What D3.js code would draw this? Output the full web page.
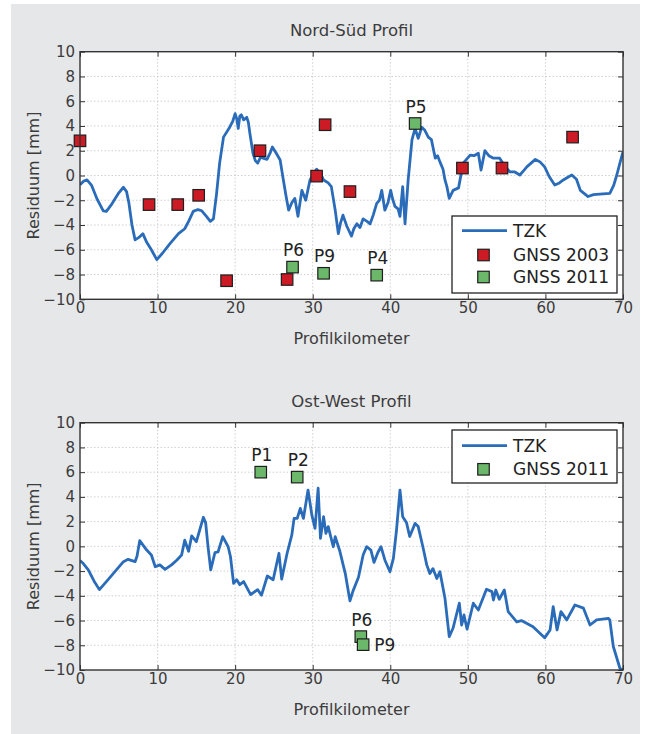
<!DOCTYPE html>
<html><head><meta charset="utf-8">
<script src="https://cdn.jsdelivr.net/npm/d3@7/dist/d3.min.js"></script>
<style>body{margin:0;background:#fff}text{font-family:"DejaVu Sans",sans-serif}</style>
</head><body><svg id="c" width="645" height="734"></svg>
<script>
// ---------- data ----------
const xTicks = [0,10,20,30,40,50,60,70];
const yTicks = [-10,-8,-6,-4,-2,0,2,4,6,8,10];
const titles = ["Nord-Süd Profil","Ost-West Profil"];
const xLabel = "Profilkilometer";
const yLabel = "Residuum [mm]";
const legendNS = ["TZK","GNSS 2003","GNSS 2011"];
const legendOW = ["TZK","GNSS 2011"];

const nsTZK = [[0,-0.75],[0.5,-0.45],[0.9,-0.35],[1.5,-0.8],[2.2,-1.9],[3.0,-2.85],[3.4,-2.9],[4.0,-2.4],[4.5,-1.9],[5.0,-1.4],[5.6,-0.95],[6.0,-1.3],[6.3,-2.2],[6.7,-4.0],[7.1,-5.2],[7.6,-5.0],[8.1,-4.7],[8.6,-5.4],[9.2,-6.0],[9.9,-6.8],[10.6,-6.3],[11.6,-5.5],[12.7,-4.7],[13.5,-4.3],[14.0,-3.7],[14.6,-2.9],[15.2,-2.75],[15.7,-2.85],[16.3,-3.3],[16.8,-3.7],[17.2,-3.5],[17.6,-1.5],[18.0,1.0],[18.5,3.1],[19.3,3.9],[19.7,4.4],[20.0,5.0],[20.2,4.6],[20.4,3.8],[20.6,4.8],[20.8,4.9],[21.1,4.5],[21.5,4.7],[21.7,4.3],[21.9,3.4],[22.3,1.8],[22.6,1.2],[22.9,1.0],[23.3,1.5],[23.6,1.4],[24.1,1.3],[24.5,1.8],[24.8,2.3],[25.3,1.8],[25.8,1.25],[26.2,-0.3],[26.6,-1.8],[26.9,-2.8],[27.3,-2.2],[27.7,-1.85],[28.1,-3.3],[28.6,-1.2],[29.1,-2.0],[29.65,-0.36],[30.0,0.0],[30.5,0.5],[31.0,0.2],[31.4,-0.36],[32.0,-0.6],[32.4,-0.9],[32.9,-2.8],[33.3,-4.7],[33.6,-3.8],[33.9,-3.2],[34.4,-4.1],[35.0,-4.9],[35.3,-4.3],[35.7,-3.9],[36.1,-4.2],[36.5,-3.5],[37.0,-3.7],[37.4,-3.9],[37.8,-3.2],[38.25,-2.25],[38.6,-2.0],[38.9,-1.2],[39.3,-2.8],[39.7,-2.2],[40.05,-1.2],[40.3,-1.9],[40.6,-2.5],[41.0,-2.7],[41.25,-3.3],[41.6,-0.9],[41.9,-3.9],[42.3,-0.4],[42.8,2.9],[43.2,3.8],[43.6,3.0],[44.05,3.9],[44.4,3.7],[44.9,3.1],[45.3,2.9],[45.8,1.4],[46.1,1.6],[46.4,1.1],[46.8,0.5],[47.05,-0.36],[47.3,-0.9],[47.6,-1.85],[48.1,-1.2],[48.8,-1.0],[49.4,1.0],[50.3,1.65],[50.8,1.6],[51.35,1.8],[51.7,0.44],[52.2,2.0],[52.7,1.6],[53.3,1.4],[54.1,1.4],[54.7,0.8],[55.4,0.3],[56.0,0.3],[56.7,0.04],[57.2,0.4],[57.6,0.7],[58.7,1.3],[59.3,1.1],[59.9,0.7],[60.5,-0.1],[61.2,-0.77],[61.8,-0.6],[62.3,-0.36],[63.0,-0.1],[63.4,0.04],[64.0,-0.3],[64.5,-1.2],[65.5,-1.7],[66.2,-1.55],[67.0,-1.5],[68.3,-1.45],[68.8,-0.8],[69.2,0.04],[69.6,1.0],[70.0,1.9]];

const nsGNSS2003 = [[0,2.8],[8.9,-2.35],[12.6,-2.35],[15.3,-1.6],[18.9,-8.5],[23.2,2.0],[26.7,-8.4],[30.5,-0.05],[31.6,4.1],[34.8,-1.3],[49.3,0.6],[54.4,0.6],[63.5,3.1]];
const nsGNSS2011 = [[27.4,-7.4],[31.4,-7.9],[38.25,-8.05],[43.2,4.2]];
const nsLabels = ["P6","P9","P4","P5"];
const nsLabelSide = ["above","above","above","above"];

const owTZK = [[0,-1.16],[0.4,-1.37],[1.07,-1.9],[1.8,-2.8],[2.5,-3.5],[3.4,-2.85],[4.5,-2.05],[5.6,-1.24],[6.2,-1.05],[7.1,-1.24],[7.35,-0.8],[7.7,0.46],[8.6,-0.3],[9.2,-0.7],[9.7,-1.65],[10.3,-1.5],[10.96,-1.86],[11.8,-1.5],[12.5,-1.1],[13.1,-0.7],[13.5,0.5],[14.0,-0.4],[14.4,0.85],[15.0,0.38],[15.9,2.35],[16.2,1.9],[16.5,0.0],[16.85,-1.9],[17.4,-0.5],[17.8,-0.45],[18.4,0.78],[19.1,-0.03],[19.4,-0.84],[19.8,-3.0],[20.2,-2.7],[20.6,-3.1],[21.1,-2.85],[22.0,-3.9],[22.9,-3.5],[23.4,-3.95],[24.15,-2.4],[24.9,-2.7],[25.65,-0.56],[26.0,-2.65],[26.7,-0.56],[27.3,0.9],[27.6,2.26],[28.0,2.26],[28.4,3.07],[28.8,2.26],[29.4,4.55],[29.9,2.5],[30.3,1.45],[30.7,4.7],[31.0,0.65],[31.4,2.4],[31.7,1.05],[32.0,1.6],[32.65,-0.03],[32.9,0.78],[33.5,-0.4],[34.2,-2.2],[34.5,-3.3],[34.8,-4.4],[35.2,-3.6],[35.9,-2.5],[36.5,-0.7],[36.95,-0.03],[37.5,-0.3],[37.9,-1.3],[38.4,-0.5],[38.8,-0.03],[39.3,-1.1],[39.96,-2.05],[40.4,-0.97],[40.8,1.3],[41.25,4.55],[41.6,2.4],[42.1,1.9],[42.5,0.8],[43.2,1.86],[43.6,1.6],[44.2,-0.03],[44.7,-1.5],[45.1,-2.2],[45.5,-1.8],[46.0,-2.6],[46.4,-2.05],[47.05,-4.2],[47.6,-7.3],[48.1,-6.6],[48.9,-4.6],[49.2,-6.36],[49.5,-5.55],[49.9,-6.7],[50.7,-4.6],[51.35,-5.15],[52.4,-3.47],[53.1,-3.66],[53.3,-4.34],[53.6,-3.53],[54.05,-4.28],[54.7,-3.53],[55.2,-5.28],[56.3,-6.1],[56.9,-6.0],[58.4,-6.5],[59.9,-7.4],[60.6,-6.76],[61.0,-4.88],[61.5,-6.76],[62.0,-5.28],[62.75,-5.95],[63.8,-4.74],[64.9,-5.0],[65.75,-6.36],[66.6,-5.95],[68.1,-5.82],[68.3,-5.95],[68.75,-8.1],[69.6,-9.86],[70.0,-10]];

const owGNSS2011 = [[23.3,6.0],[28.0,5.6],[36.2,-7.3],[36.5,-7.95]];
const owLabels = ["P1","P2","P6","P9"];
const owLabelSide = ["above","above","above","right"];

// ---------- styles ----------
const C = {panel:"#e6e7e9", line:"#2a6cb9", red:"#cc1b24", green:"#6cb86a", axis:"#333", text:"#3c3c3c", grid:"#c4c4c4"};

const svg = d3.select("#c");
svg.append("rect").attr("x",11).attr("y",4).attr("width",629).attr("height",730).attr("fill",C.panel);

function panel(o){
  const x = d3.scaleLinear().domain([0,70]).range([80,623]);
  const y = d3.scaleLinear().domain([-10,10]).range([o.bottom,o.top]);
  const g = svg.append("g");
  const id = "clip"+Math.round(o.top);
  svg.append("clipPath").attr("id",id).append("rect")
    .attr("x",80).attr("y",o.top).attr("width",543).attr("height",o.bottom-o.top);
  g.append("rect").attr("x",80).attr("y",o.top).attr("width",543).attr("height",o.bottom-o.top).attr("fill","#fff");
  // grid
  g.append("g").selectAll("line").data(xTicks.slice(1,-1)).join("line")
    .attr("x1",d=>x(d)).attr("x2",d=>x(d)).attr("y1",o.top).attr("y2",o.bottom)
    .attr("stroke",C.grid).attr("stroke-width",0.8).attr("stroke-dasharray","1.5,2");
  g.append("g").selectAll("line").data(yTicks.slice(1,-1)).join("line")
    .attr("y1",d=>y(d)).attr("y2",d=>y(d)).attr("x1",80).attr("x2",623)
    .attr("stroke",C.grid).attr("stroke-width",0.8).attr("stroke-dasharray","1.5,2");
  // line
  g.append("path").datum(o.tzk).attr("clip-path",`url(#${id})`)
    .attr("d",d3.line().x(d=>x(d[0])).y(d=>y(d[1])))
    .attr("fill","none").attr("stroke",C.line).attr("stroke-width",2.8).attr("stroke-linejoin","round");
  const sq = 11.5;
  function squares(data,fill){
    g.append("g").selectAll("rect").data(data).join("rect")
      .attr("x",d=>x(d[0])-sq/2).attr("y",d=>y(d[1])-sq/2).attr("width",sq).attr("height",sq)
      .attr("fill",fill).attr("stroke","#1e1e1e").attr("stroke-width",1.2);
  }
  if(o.g2003) squares(o.g2003,C.red);
  squares(o.g2011,C.green);
  g.append("g").selectAll("text").data(o.g2011).join("text")
    .attr("x",(d,i)=>o.side[i]==="right"? x(d[0])+11 : x(d[0])+1)
    .attr("y",(d,i)=>o.side[i]==="right"? y(d[1])+6 : y(d[1])-11)
    .attr("text-anchor",(d,i)=>o.side[i]==="right"?"start":"middle")
    .attr("font-size",17).attr("fill","#222").text((d,i)=>o.labels[i]);
  // axes
  const ax = (gen,tr,labels)=>{
    const a = g.append("g").attr("transform",tr).call(gen);
    a.select(".domain").remove();
    a.selectAll(".tick line").attr("stroke",C.axis).attr("stroke-width",1);
    a.selectAll("text").attr("font-size",15).attr("fill",C.text).attr("font-family","DejaVu Sans");
    if(!labels) a.selectAll("text").remove();
  };
  ax(d3.axisBottom(x).tickValues(xTicks).tickSize(-5).tickPadding(3).tickFormat(d3.format("d")),`translate(0,${o.bottom})`,true);
  ax(d3.axisTop(x).tickValues(xTicks).tickSize(-5),`translate(0,${o.top})`,false);
  ax(d3.axisLeft(y).tickValues(yTicks).tickSize(-5).tickPadding(5).tickFormat(d3.format("d")),`translate(80,0)`,true);
  ax(d3.axisRight(y).tickValues(yTicks).tickSize(-5),`translate(623,0)`,false);
  g.append("rect").attr("x",80).attr("y",o.top).attr("width",543).attr("height",o.bottom-o.top)
    .attr("fill","none").attr("stroke",C.axis).attr("stroke-width",1.4);
  // texts
  g.append("text").attr("x",351.5).attr("y",o.top-15.5).attr("text-anchor","middle")
    .attr("font-size",16.5).attr("fill",C.text).text(o.title);
  g.append("text").attr("x",351.5).attr("y",o.bottom+44.5).attr("text-anchor","middle")
    .attr("font-size",16).attr("fill",C.text).text(xLabel);
  g.append("text").attr("transform",`translate(39,${(o.top+o.bottom)/2}) rotate(-90)`).attr("text-anchor","middle")
    .attr("font-size",16).attr("fill",C.text).text(yLabel);
  // legend
  const L = o.legend;
  const lg = g.append("g").attr("transform",`translate(452,${L.y})`);
  lg.append("rect").attr("width",165).attr("height",L.h).attr("fill","#fff").attr("stroke","#222").attr("stroke-width",1.3);
  L.items.forEach((name,i)=>{
    const ry = L.rows[i];
    if(i===0){
      lg.append("line").attr("x1",10).attr("x2",55).attr("y1",ry).attr("y2",ry)
        .attr("stroke",C.line).attr("stroke-width",2.8);
    } else {
      const f = (name==="GNSS 2003")?C.red:C.green;
      lg.append("rect").attr("x",31.5-sq/2).attr("y",ry-sq/2).attr("width",sq).attr("height",sq)
        .attr("fill",f).attr("stroke","#1e1e1e").attr("stroke-width",1.2);
    }
    lg.append("text").attr("x",61).attr("y",ry).attr("dy","0.36em").attr("font-size",17).attr("fill","#222").text(name);
  });
}

panel({top:51.7,bottom:299.3,title:titles[0],tzk:nsTZK,g2003:nsGNSS2003,g2011:nsGNSS2011,labels:nsLabels,side:nsLabelSide,
  legend:{y:216,h:77,rows:[14.7,39,61],items:legendNS}});
panel({top:422.7,bottom:670,title:titles[1],tzk:owTZK,g2003:null,g2011:owGNSS2011,labels:owLabels,side:owLabelSide,
  legend:{y:430,h:53,rows:[15.7,39.3],items:legendOW}});
</script></body></html>
